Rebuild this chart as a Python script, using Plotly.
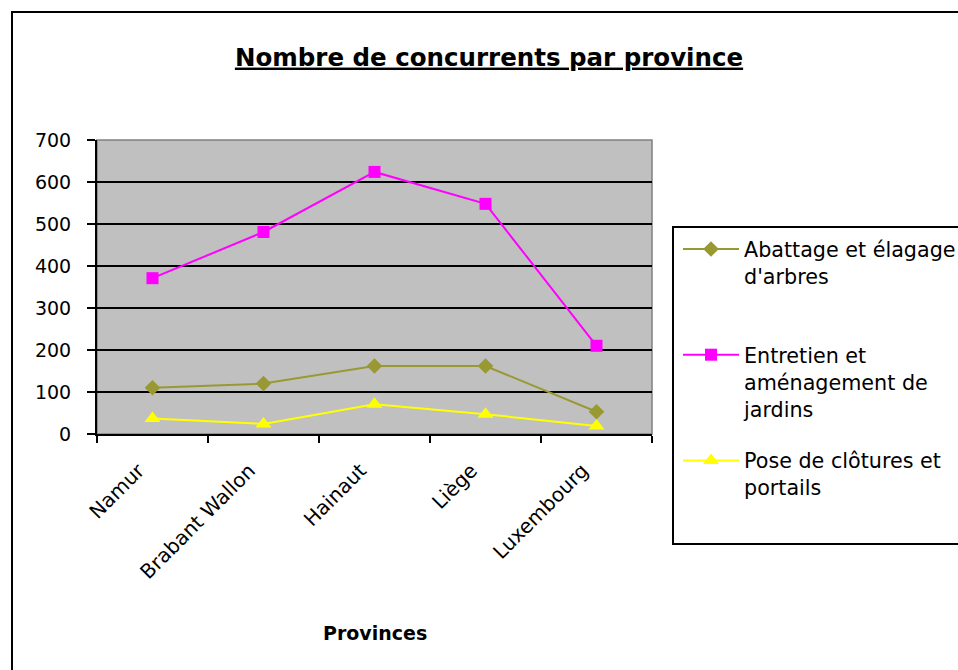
import plotly.graph_objects as go

provinces = ["Namur", "Brabant Wallon", "Hainaut", "Liège", "Luxembourg"]
abattage = [110, 120, 162, 162, 53]
entretien = [371, 481, 624, 548, 210]
clotures = [37, 24, 71, 47, 19]

series_names = [
    "Abattage et élagage<br>d'arbres<br> ",
    "Entretien et<br>aménagement de<br>jardins",
    "Pose de clôtures et<br>portails",
]
colors = ["#999933", "#FF00FF", "#FFFF00"]
symbols = ["diamond", "square", "triangle-up"]
sizes = [12, 12, 14]

FONT = "DejaVu Sans, sans-serif"

fig = go.Figure()
for i, (name, vals, col, sym, sz) in enumerate(zip(series_names, [abattage, entretien, clotures], colors, symbols, sizes)):
    fig.add_trace(go.Scatter(
        x=provinces, y=vals, name=name, mode="lines+markers", legendgroup=f"g{i}",
        line=dict(color=col, width=2),
        marker=dict(symbol=sym, size=sz, color=col),
        cliponaxis=False,
    ))

# body margin is removed in the page (post_script), so figure px == screen px
W, H = 958, 670
L, R, T, B = 97, 652, 140, 434   # plot area in pixels
pw, ph = R - L, B - T

def px(x):
    return (x - L) / pw

def py(y):
    return (B - y) / ph

shapes = [
    # outer chart frame
    dict(type="rect", xref="paper", yref="paper", x0=px(12), x1=px(975), y0=py(690), y1=py(12),
         line=dict(color="black", width=2), layer="below"),
    # plot area border
    dict(type="rect", xref="paper", yref="paper", x0=0, x1=1, y0=0, y1=1,
         line=dict(color="#808080", width=1.5), layer="below"),
    # legend box
    dict(type="rect", xref="paper", yref="paper", x0=px(673), x1=px(975), y0=py(544), y1=py(227),
         line=dict(color="black", width=2), fillcolor="white", layer="below"),
]

fig.update_layout(
    width=W, height=H,
    margin=dict(l=L, r=W - R, t=T, b=H - B, autoexpand=False),
    paper_bgcolor="white",
    plot_bgcolor="#C0C0C0",
    font=dict(family=FONT, size=18, color="black"),
    title=dict(text="<u><b>Nombre de concurrents par province</b></u>", x=489 / W, xanchor="center",
               y=1 - 57 / H, yanchor="middle", font=dict(size=24.5, family=FONT)),
    showlegend=True,
    legend=dict(x=px(678), xanchor="left", y=py(229), yanchor="top", valign="top",
                bgcolor="rgba(0,0,0,0)", borderwidth=0, font=dict(size=20.7, family=FONT),
                itemwidth=56, tracegroupgap=22, traceorder="grouped"),
    shapes=shapes,
    annotations=[dict(text="<b>Provinces</b>", xref="paper", yref="paper", x=0.5, y=py(633),
                      xanchor="center", yanchor="middle", showarrow=False, font=dict(size=19, family=FONT))],
)

fig.update_xaxes(
    type="category", tickangle=-45, showgrid=False, showline=True, linecolor="black", linewidth=2,
    ticks="outside", tickson="boundaries", ticklen=7, tickcolor="black", tickwidth=1.5,
    range=[-0.5, 4.5], tickfont=dict(size=20), ticklabelstandoff=15, ticklabelshift=-14,
)
fig.update_yaxes(
    range=[0, 700], dtick=100, showgrid=True, gridcolor="black", gridwidth=2,
    showline=True, linecolor="black", linewidth=2, ticks="outside", ticklen=8,
    tickcolor="black", tickwidth=1.5, zeroline=False, tickfont=dict(size=19),
    ticklabelstandoff=12,
)

fig.write_html("out.html", config={"displayModeBar": False},
               post_script="document.body.style.margin='0';")
